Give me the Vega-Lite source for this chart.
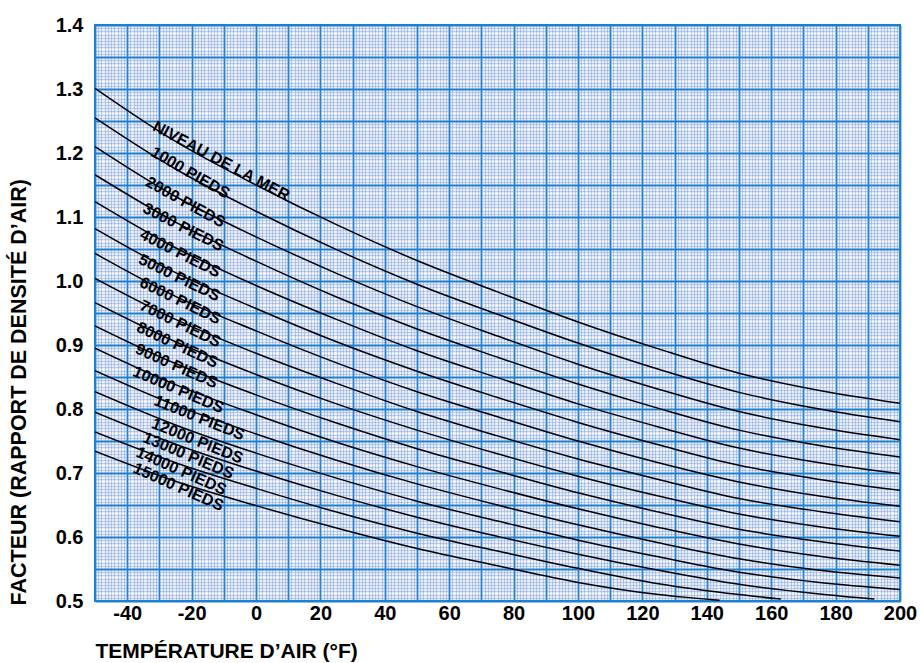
{
  "$schema": "https://vega.github.io/schema/vega-lite/v6.json",
  "width": 805,
  "height": 576,
  "autosize": "none",
  "padding": {"left": 95, "top": 25, "right": 20, "bottom": 62},
  "background": "white",
  "config": {
    "view": {"fill": "white", "stroke": "#1c80d2", "strokeWidth": 2},
    "font": "Liberation Sans"
  },
  "datasets": {
    "curves": [
      {"alt": 0, "t": -50, "f": 1.301}, {"alt": 0, "t": -25, "f": 1.218}, {"alt": 0, "t": 0, "f": 1.150}, {"alt": 0, "t": 25, "f": 1.088}, {"alt": 0, "t": 50, "f": 1.032}, {"alt": 0, "t": 75, "f": 0.983}, {"alt": 0, "t": 100, "f": 0.936}, {"alt": 0, "t": 125, "f": 0.894}, {"alt": 0, "t": 150, "f": 0.856}, {"alt": 0, "t": 175, "f": 0.829}, {"alt": 0, "t": 200, "f": 0.809},
      {"alt": 1000, "t": -50, "f": 1.255}, {"alt": 1000, "t": -25, "f": 1.175}, {"alt": 1000, "t": 0, "f": 1.109}, {"alt": 1000, "t": 25, "f": 1.049}, {"alt": 1000, "t": 50, "f": 0.995}, {"alt": 1000, "t": 75, "f": 0.948}, {"alt": 1000, "t": 100, "f": 0.903}, {"alt": 1000, "t": 125, "f": 0.862}, {"alt": 1000, "t": 150, "f": 0.826}, {"alt": 1000, "t": 175, "f": 0.800}, {"alt": 1000, "t": 200, "f": 0.780},
      {"alt": 2000, "t": -50, "f": 1.210}, {"alt": 2000, "t": -25, "f": 1.132}, {"alt": 2000, "t": 0, "f": 1.069}, {"alt": 2000, "t": 25, "f": 1.012}, {"alt": 2000, "t": 50, "f": 0.960}, {"alt": 2000, "t": 75, "f": 0.914}, {"alt": 2000, "t": 100, "f": 0.870}, {"alt": 2000, "t": 125, "f": 0.831}, {"alt": 2000, "t": 150, "f": 0.796}, {"alt": 2000, "t": 175, "f": 0.771}, {"alt": 2000, "t": 200, "f": 0.752},
      {"alt": 3000, "t": -50, "f": 1.166}, {"alt": 3000, "t": -25, "f": 1.092}, {"alt": 3000, "t": 0, "f": 1.031}, {"alt": 3000, "t": 25, "f": 0.975}, {"alt": 3000, "t": 50, "f": 0.925}, {"alt": 3000, "t": 75, "f": 0.881}, {"alt": 3000, "t": 100, "f": 0.839}, {"alt": 3000, "t": 125, "f": 0.801}, {"alt": 3000, "t": 150, "f": 0.767}, {"alt": 3000, "t": 175, "f": 0.743}, {"alt": 3000, "t": 200, "f": 0.725},
      {"alt": 4000, "t": -50, "f": 1.124}, {"alt": 4000, "t": -25, "f": 1.052}, {"alt": 4000, "t": 0, "f": 0.993}, {"alt": 4000, "t": 25, "f": 0.940}, {"alt": 4000, "t": 50, "f": 0.891}, {"alt": 4000, "t": 75, "f": 0.849}, {"alt": 4000, "t": 100, "f": 0.808}, {"alt": 4000, "t": 125, "f": 0.772}, {"alt": 4000, "t": 150, "f": 0.739}, {"alt": 4000, "t": 175, "f": 0.716}, {"alt": 4000, "t": 200, "f": 0.699},
      {"alt": 5000, "t": -50, "f": 1.082}, {"alt": 5000, "t": -25, "f": 1.013}, {"alt": 5000, "t": 0, "f": 0.957}, {"alt": 5000, "t": 25, "f": 0.905}, {"alt": 5000, "t": 50, "f": 0.859}, {"alt": 5000, "t": 75, "f": 0.818}, {"alt": 5000, "t": 100, "f": 0.779}, {"alt": 5000, "t": 125, "f": 0.744}, {"alt": 5000, "t": 150, "f": 0.712}, {"alt": 5000, "t": 175, "f": 0.690}, {"alt": 5000, "t": 200, "f": 0.673},
      {"alt": 6000, "t": -50, "f": 1.043}, {"alt": 6000, "t": -25, "f": 0.976}, {"alt": 6000, "t": 0, "f": 0.922}, {"alt": 6000, "t": 25, "f": 0.872}, {"alt": 6000, "t": 50, "f": 0.827}, {"alt": 6000, "t": 75, "f": 0.788}, {"alt": 6000, "t": 100, "f": 0.750}, {"alt": 6000, "t": 125, "f": 0.716}, {"alt": 6000, "t": 150, "f": 0.686}, {"alt": 6000, "t": 175, "f": 0.664}, {"alt": 6000, "t": 200, "f": 0.648},
      {"alt": 7000, "t": -50, "f": 1.004}, {"alt": 7000, "t": -25, "f": 0.940}, {"alt": 7000, "t": 0, "f": 0.887}, {"alt": 7000, "t": 25, "f": 0.840}, {"alt": 7000, "t": 50, "f": 0.796}, {"alt": 7000, "t": 75, "f": 0.758}, {"alt": 7000, "t": 100, "f": 0.722}, {"alt": 7000, "t": 125, "f": 0.690}, {"alt": 7000, "t": 150, "f": 0.660}, {"alt": 7000, "t": 175, "f": 0.640}, {"alt": 7000, "t": 200, "f": 0.624},
      {"alt": 8000, "t": -50, "f": 0.966}, {"alt": 8000, "t": -25, "f": 0.905}, {"alt": 8000, "t": 0, "f": 0.854}, {"alt": 8000, "t": 25, "f": 0.808}, {"alt": 8000, "t": 50, "f": 0.767}, {"alt": 8000, "t": 75, "f": 0.730}, {"alt": 8000, "t": 100, "f": 0.695}, {"alt": 8000, "t": 125, "f": 0.664}, {"alt": 8000, "t": 150, "f": 0.636}, {"alt": 8000, "t": 175, "f": 0.616}, {"alt": 8000, "t": 200, "f": 0.601},
      {"alt": 9000, "t": -50, "f": 0.930}, {"alt": 9000, "t": -25, "f": 0.871}, {"alt": 9000, "t": 0, "f": 0.822}, {"alt": 9000, "t": 25, "f": 0.778}, {"alt": 9000, "t": 50, "f": 0.738}, {"alt": 9000, "t": 75, "f": 0.703}, {"alt": 9000, "t": 100, "f": 0.669}, {"alt": 9000, "t": 125, "f": 0.639}, {"alt": 9000, "t": 150, "f": 0.612}, {"alt": 9000, "t": 175, "f": 0.593}, {"alt": 9000, "t": 200, "f": 0.578},
      {"alt": 10000, "t": -50, "f": 0.895}, {"alt": 10000, "t": -25, "f": 0.838}, {"alt": 10000, "t": 0, "f": 0.791}, {"alt": 10000, "t": 25, "f": 0.748}, {"alt": 10000, "t": 50, "f": 0.710}, {"alt": 10000, "t": 75, "f": 0.676}, {"alt": 10000, "t": 100, "f": 0.644}, {"alt": 10000, "t": 125, "f": 0.615}, {"alt": 10000, "t": 150, "f": 0.589}, {"alt": 10000, "t": 175, "f": 0.570}, {"alt": 10000, "t": 200, "f": 0.556},
      {"alt": 11000, "t": -50, "f": 0.860}, {"alt": 11000, "t": -25, "f": 0.806}, {"alt": 11000, "t": 0, "f": 0.761}, {"alt": 11000, "t": 25, "f": 0.720}, {"alt": 11000, "t": 50, "f": 0.683}, {"alt": 11000, "t": 75, "f": 0.650}, {"alt": 11000, "t": 100, "f": 0.619}, {"alt": 11000, "t": 125, "f": 0.591}, {"alt": 11000, "t": 150, "f": 0.566}, {"alt": 11000, "t": 175, "f": 0.548}, {"alt": 11000, "t": 200, "f": 0.536},
      {"alt": 12000, "t": -50, "f": 0.827}, {"alt": 12000, "t": -25, "f": 0.775}, {"alt": 12000, "t": 0, "f": 0.731}, {"alt": 12000, "t": 25, "f": 0.692}, {"alt": 12000, "t": 50, "f": 0.656}, {"alt": 12000, "t": 75, "f": 0.625}, {"alt": 12000, "t": 100, "f": 0.595}, {"alt": 12000, "t": 125, "f": 0.569}, {"alt": 12000, "t": 150, "f": 0.545}, {"alt": 12000, "t": 175, "f": 0.529}, {"alt": 12000, "t": 200, "f": 0.518},
      {"alt": 13000, "t": -50, "f": 0.795}, {"alt": 13000, "t": -25, "f": 0.745}, {"alt": 13000, "t": 0, "f": 0.703}, {"alt": 13000, "t": 25, "f": 0.665}, {"alt": 13000, "t": 50, "f": 0.631}, {"alt": 13000, "t": 75, "f": 0.601}, {"alt": 13000, "t": 100, "f": 0.573}, {"alt": 13000, "t": 125, "f": 0.548}, {"alt": 13000, "t": 150, "f": 0.526}, {"alt": 13000, "t": 175, "f": 0.511}, {"alt": 13000, "t": 192, "f": 0.503},
      {"alt": 14000, "t": -50, "f": 0.764}, {"alt": 14000, "t": -25, "f": 0.716}, {"alt": 14000, "t": 0, "f": 0.676}, {"alt": 14000, "t": 25, "f": 0.639}, {"alt": 14000, "t": 50, "f": 0.606}, {"alt": 14000, "t": 75, "f": 0.578}, {"alt": 14000, "t": 100, "f": 0.551}, {"alt": 14000, "t": 125, "f": 0.527}, {"alt": 14000, "t": 150, "f": 0.510}, {"alt": 14000, "t": 163, "f": 0.503},
      {"alt": 15000, "t": -50, "f": 0.734}, {"alt": 15000, "t": -25, "f": 0.687}, {"alt": 15000, "t": 0, "f": 0.649}, {"alt": 15000, "t": 25, "f": 0.614}, {"alt": 15000, "t": 50, "f": 0.582}, {"alt": 15000, "t": 75, "f": 0.555}, {"alt": 15000, "t": 100, "f": 0.529}, {"alt": 15000, "t": 125, "f": 0.510}, {"alt": 15000, "t": 144, "f": 0.501}
    ],
    "labels": [
      {"label": "NIVEAU DE LA MER", "t": -10.8, "f": 1.1875, "angle": 28},
      {"label": "1000 PIEDS", "t": -20.4, "f": 1.169, "angle": 30},
      {"label": "2000 PIEDS", "t": -21.9, "f": 1.123, "angle": 29},
      {"label": "3000 PIEDS", "t": -22.6, "f": 1.084, "angle": 27},
      {"label": "4000 PIEDS", "t": -23.5, "f": 1.043, "angle": 27},
      {"label": "5000 PIEDS", "t": -23.8, "f": 1.005, "angle": 26},
      {"label": "6000 PIEDS", "t": -23.5, "f": 0.969, "angle": 26},
      {"label": "7000 PIEDS", "t": -23.5, "f": 0.933, "angle": 26},
      {"label": "8000 PIEDS", "t": -24.4, "f": 0.900, "angle": 25},
      {"label": "9000 PIEDS", "t": -24.7, "f": 0.867, "angle": 24},
      {"label": "10000 PIEDS", "t": -24.1, "f": 0.830, "angle": 23},
      {"label": "11000 PIEDS", "t": -17.6, "f": 0.786, "angle": 22},
      {"label": "12000 PIEDS", "t": -18.2, "f": 0.750, "angle": 22},
      {"label": "13000 PIEDS", "t": -21.0, "f": 0.727, "angle": 23},
      {"label": "14000 PIEDS", "t": -23.2, "f": 0.703, "angle": 24},
      {"label": "15000 PIEDS", "t": -24.1, "f": 0.678, "angle": 24}
    ]
  },
  "encoding": {
    "x": {
      "field": "t",
      "type": "quantitative",
      "scale": {"domain": [-50, 200], "nice": false, "zero": false},
      "axis": {
        "values": [-50,-49,-48,-47,-46,-45,-44,-43,-42,-41,-40,-39,-38,-37,-36,-35,-34,-33,-32,-31,-30,-29,-28,-27,-26,-25,-24,-23,-22,-21,-20,-19,-18,-17,-16,-15,-14,-13,-12,-11,-10,-9,-8,-7,-6,-5,-4,-3,-2,-1,0,1,2,3,4,5,6,7,8,9,10,11,12,13,14,15,16,17,18,19,20,21,22,23,24,25,26,27,28,29,30,31,32,33,34,35,36,37,38,39,40,41,42,43,44,45,46,47,48,49,50,51,52,53,54,55,56,57,58,59,60,61,62,63,64,65,66,67,68,69,70,71,72,73,74,75,76,77,78,79,80,81,82,83,84,85,86,87,88,89,90,91,92,93,94,95,96,97,98,99,100,101,102,103,104,105,106,107,108,109,110,111,112,113,114,115,116,117,118,119,120,121,122,123,124,125,126,127,128,129,130,131,132,133,134,135,136,137,138,139,140,141,142,143,144,145,146,147,148,149,150,151,152,153,154,155,156,157,158,159,160,161,162,163,164,165,166,167,168,169,170,171,172,173,174,175,176,177,178,179,180,181,182,183,184,185,186,187,188,189,190,191,192,193,194,195,196,197,198,199,200],
        "grid": true,
        "gridColor": {"condition": {"test": "datum.value % 10 === 0", "value": "#1c80d2"}, "value": "#5f8ad8"},
        "gridOpacity": {"condition": {"test": "datum.value % 10 === 0", "value": 1}, "value": 0.4},
        "gridWidth": {"condition": {"test": "datum.value % 10 === 0", "value": 1.8}, "value": 1.3},
        "ticks": false,
        "domain": false,
        "labelExpr": "datum.value % 20 === 0 ? '' + datum.value : ''",
        "labelOverlap": false,
        "labelFlush": false,
        "labelFont": "Liberation Sans",
        "labelFontSize": 20,
        "labelFontWeight": "bold",
        "labelColor": "black",
        "labelPadding": 2,
        "title": "TEMPÉRATURE D’AIR (°F)",
        "titleFont": "Liberation Sans",
        "titleFontSize": 21,
        "titleFontWeight": "bold",
        "titleColor": "black",
        "titleX": 0,
        "titleY": 56,
        "titleAlign": "left",
        "titleBaseline": "alphabetic",
        "titleAnchor": "start"
      }
    },
    "y": {
      "field": "f",
      "type": "quantitative",
      "scale": {"domain": [0.5, 1.4], "nice": false, "zero": false},
      "axis": {
        "values": [0.5,0.505,0.51,0.515,0.52,0.525,0.53,0.535,0.54,0.545,0.55,0.555,0.56,0.565,0.57,0.575,0.58,0.585,0.59,0.595,0.6,0.605,0.61,0.615,0.62,0.625,0.63,0.635,0.64,0.645,0.65,0.655,0.66,0.665,0.67,0.675,0.68,0.685,0.69,0.695,0.7,0.705,0.71,0.715,0.72,0.725,0.73,0.735,0.74,0.745,0.75,0.755,0.76,0.765,0.77,0.775,0.78,0.785,0.79,0.795,0.8,0.805,0.81,0.815,0.82,0.825,0.83,0.835,0.84,0.845,0.85,0.855,0.86,0.865,0.87,0.875,0.88,0.885,0.89,0.895,0.9,0.905,0.91,0.915,0.92,0.925,0.93,0.935,0.94,0.945,0.95,0.955,0.96,0.965,0.97,0.975,0.98,0.985,0.99,0.995,1,1.005,1.01,1.015,1.02,1.025,1.03,1.035,1.04,1.045,1.05,1.055,1.06,1.065,1.07,1.075,1.08,1.085,1.09,1.095,1.1,1.105,1.11,1.115,1.12,1.125,1.13,1.135,1.14,1.145,1.15,1.155,1.16,1.165,1.17,1.175,1.18,1.185,1.19,1.195,1.2,1.205,1.21,1.215,1.22,1.225,1.23,1.235,1.24,1.245,1.25,1.255,1.26,1.265,1.27,1.275,1.28,1.285,1.29,1.295,1.3,1.305,1.31,1.315,1.32,1.325,1.33,1.335,1.34,1.345,1.35,1.355,1.36,1.365,1.37,1.375,1.38,1.385,1.39,1.395,1.4],
        "grid": true,
        "gridColor": {"condition": {"test": "abs(round(datum.value * 1000)) % 50 === 0", "value": "#1c80d2"}, "value": "#5f8ad8"},
        "gridOpacity": {"condition": {"test": "abs(round(datum.value * 1000)) % 50 === 0", "value": 1}, "value": 0.4},
        "gridWidth": {"condition": {"test": "abs(round(datum.value * 1000)) % 50 === 0", "value": 1.8}, "value": 1.3},
        "ticks": false,
        "domain": false,
        "labelExpr": "round(datum.value * 1000) % 100 === 0 ? format(datum.value, '.1f') : ''",
        "labelOverlap": false,
        "labelFlush": false,
        "labelFont": "Liberation Sans",
        "labelFontSize": 20,
        "labelFontWeight": "bold",
        "labelColor": "black",
        "labelPadding": 12,
        "title": "FACTEUR (RAPPORT DE DENSITÉ D’AIR)",
        "titleFont": "Liberation Sans",
        "titleFontSize": 21.5,
        "titleFontWeight": "bold",
        "titleColor": "black",
        "titleX": -70,
        "titleY": 580,
        "titleAngle": -90,
        "titleAlign": "left",
        "titleBaseline": "alphabetic",
        "titleAnchor": "start"
      }
    }
  },
  "layer": [
    {
      "data": {"name": "curves"},
      "mark": {"type": "line", "interpolate": "monotone", "color": "black", "strokeWidth": 1.5, "clip": true},
      "encoding": {"detail": {"field": "alt", "type": "nominal"}}
    },
    {
      "data": {"name": "labels"},
      "mark": {"type": "text", "font": "Liberation Sans", "fontWeight": "bold", "fontSize": 16, "align": "center", "baseline": "middle", "color": "black"},
      "encoding": {
        "text": {"field": "label"},
        "angle": {"field": "angle", "type": "quantitative", "scale": null}
      }
    }
  ]
}
